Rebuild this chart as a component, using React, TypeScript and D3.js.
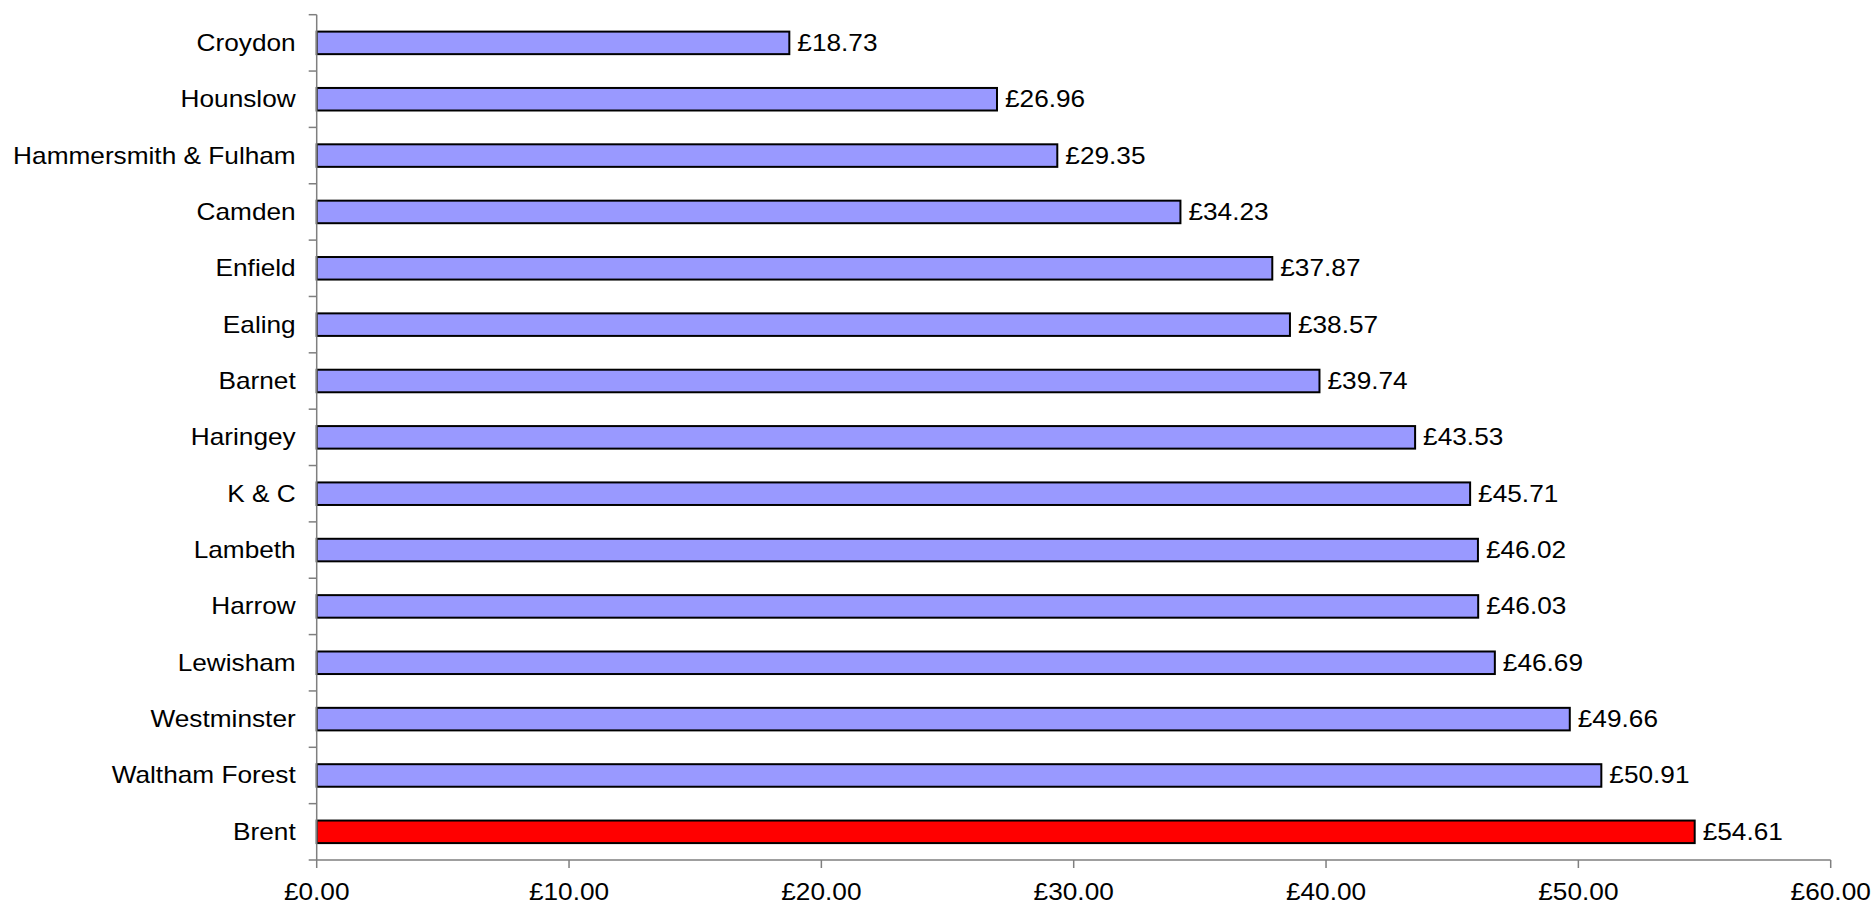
import React from "react";
import * as d3 from "d3";

const categories = [
  "Croydon", "Hounslow", "Hammersmith & Fulham", "Camden", "Enfield", "Ealing", "Barnet",
  "Haringey", "K & C", "Lambeth", "Harrow", "Lewisham", "Westminster", "Waltham Forest", "Brent",
];
const values = [18.73, 26.96, 29.35, 34.23, 37.87, 38.57, 39.74, 43.53, 45.71, 46.02, 46.03, 46.69, 49.66, 50.91, 54.61];
const highlight = "Brent";
const xTicks = [0, 10, 20, 30, 40, 50, 60];

const font = "Liberation Sans, Arial, sans-serif";
const fs = 23;
const sx = 1.14;

function T({ x, y, anchor, children }: { x: number; y: number; anchor: "start" | "middle" | "end"; children: React.ReactNode }) {
  return (
    <text transform={`translate(${x},${y}) scale(${sx},1)`} textAnchor={anchor} fontFamily={font} fontSize={fs} fill="#000">
      {children}
    </text>
  );
}

export default function App() {
  const W = 1874, H = 904;
  const left = 316.7, right = 1830.7, top = 14.7, bottom = 860;
  const x = d3.scaleLinear().domain([0, 60]).range([left, right]);
  const y = d3.scaleBand<string>().domain(categories).range([top, bottom]).paddingInner(0.6).paddingOuter(0.3);
  const band = (bottom - top) / categories.length;
  const fmt = (v: number) => "£" + d3.format(".2f")(v);
  const axisColor = "#7f7f7f";
  return (
    <svg width={W} height={H} style={{ position: "absolute", left: 0, top: 0, background: "#fff" }}>
      {categories.map((c, i) => {
        const v = values[i];
        const by = y(c)!;
        const cy = by + y.bandwidth() / 2;
        return (
          <g key={c}>
            <rect x={x(0)} y={by} width={x(v) - x(0)} height={y.bandwidth()}
              fill={c === highlight ? "#ff0000" : "#9999ff"} stroke="#000" strokeWidth={2} />
            <T x={left - 21} y={cy + 8} anchor="end">{c}</T>
            <T x={x(v) + 8} y={cy + 8} anchor="start">{fmt(v)}</T>
          </g>
        );
      })}
      <line x1={left} x2={left} y1={top} y2={bottom} stroke={axisColor} strokeWidth={1.5} />
      {d3.range(categories.length + 1).map((i) => (
        <line key={i} x1={left - 8} x2={left} y1={top + i * band} y2={top + i * band} stroke={axisColor} strokeWidth={1.5} />
      ))}
      <line x1={left} x2={right} y1={bottom} y2={bottom} stroke={axisColor} strokeWidth={1.5} />
      {xTicks.map((t) => (
        <g key={t}>
          <line x1={x(t)} x2={x(t)} y1={bottom} y2={bottom + 8} stroke={axisColor} strokeWidth={1.5} />
          <T x={x(t)} y={900} anchor="middle">{fmt(t)}</T>
        </g>
      ))}
    </svg>
  );
}
